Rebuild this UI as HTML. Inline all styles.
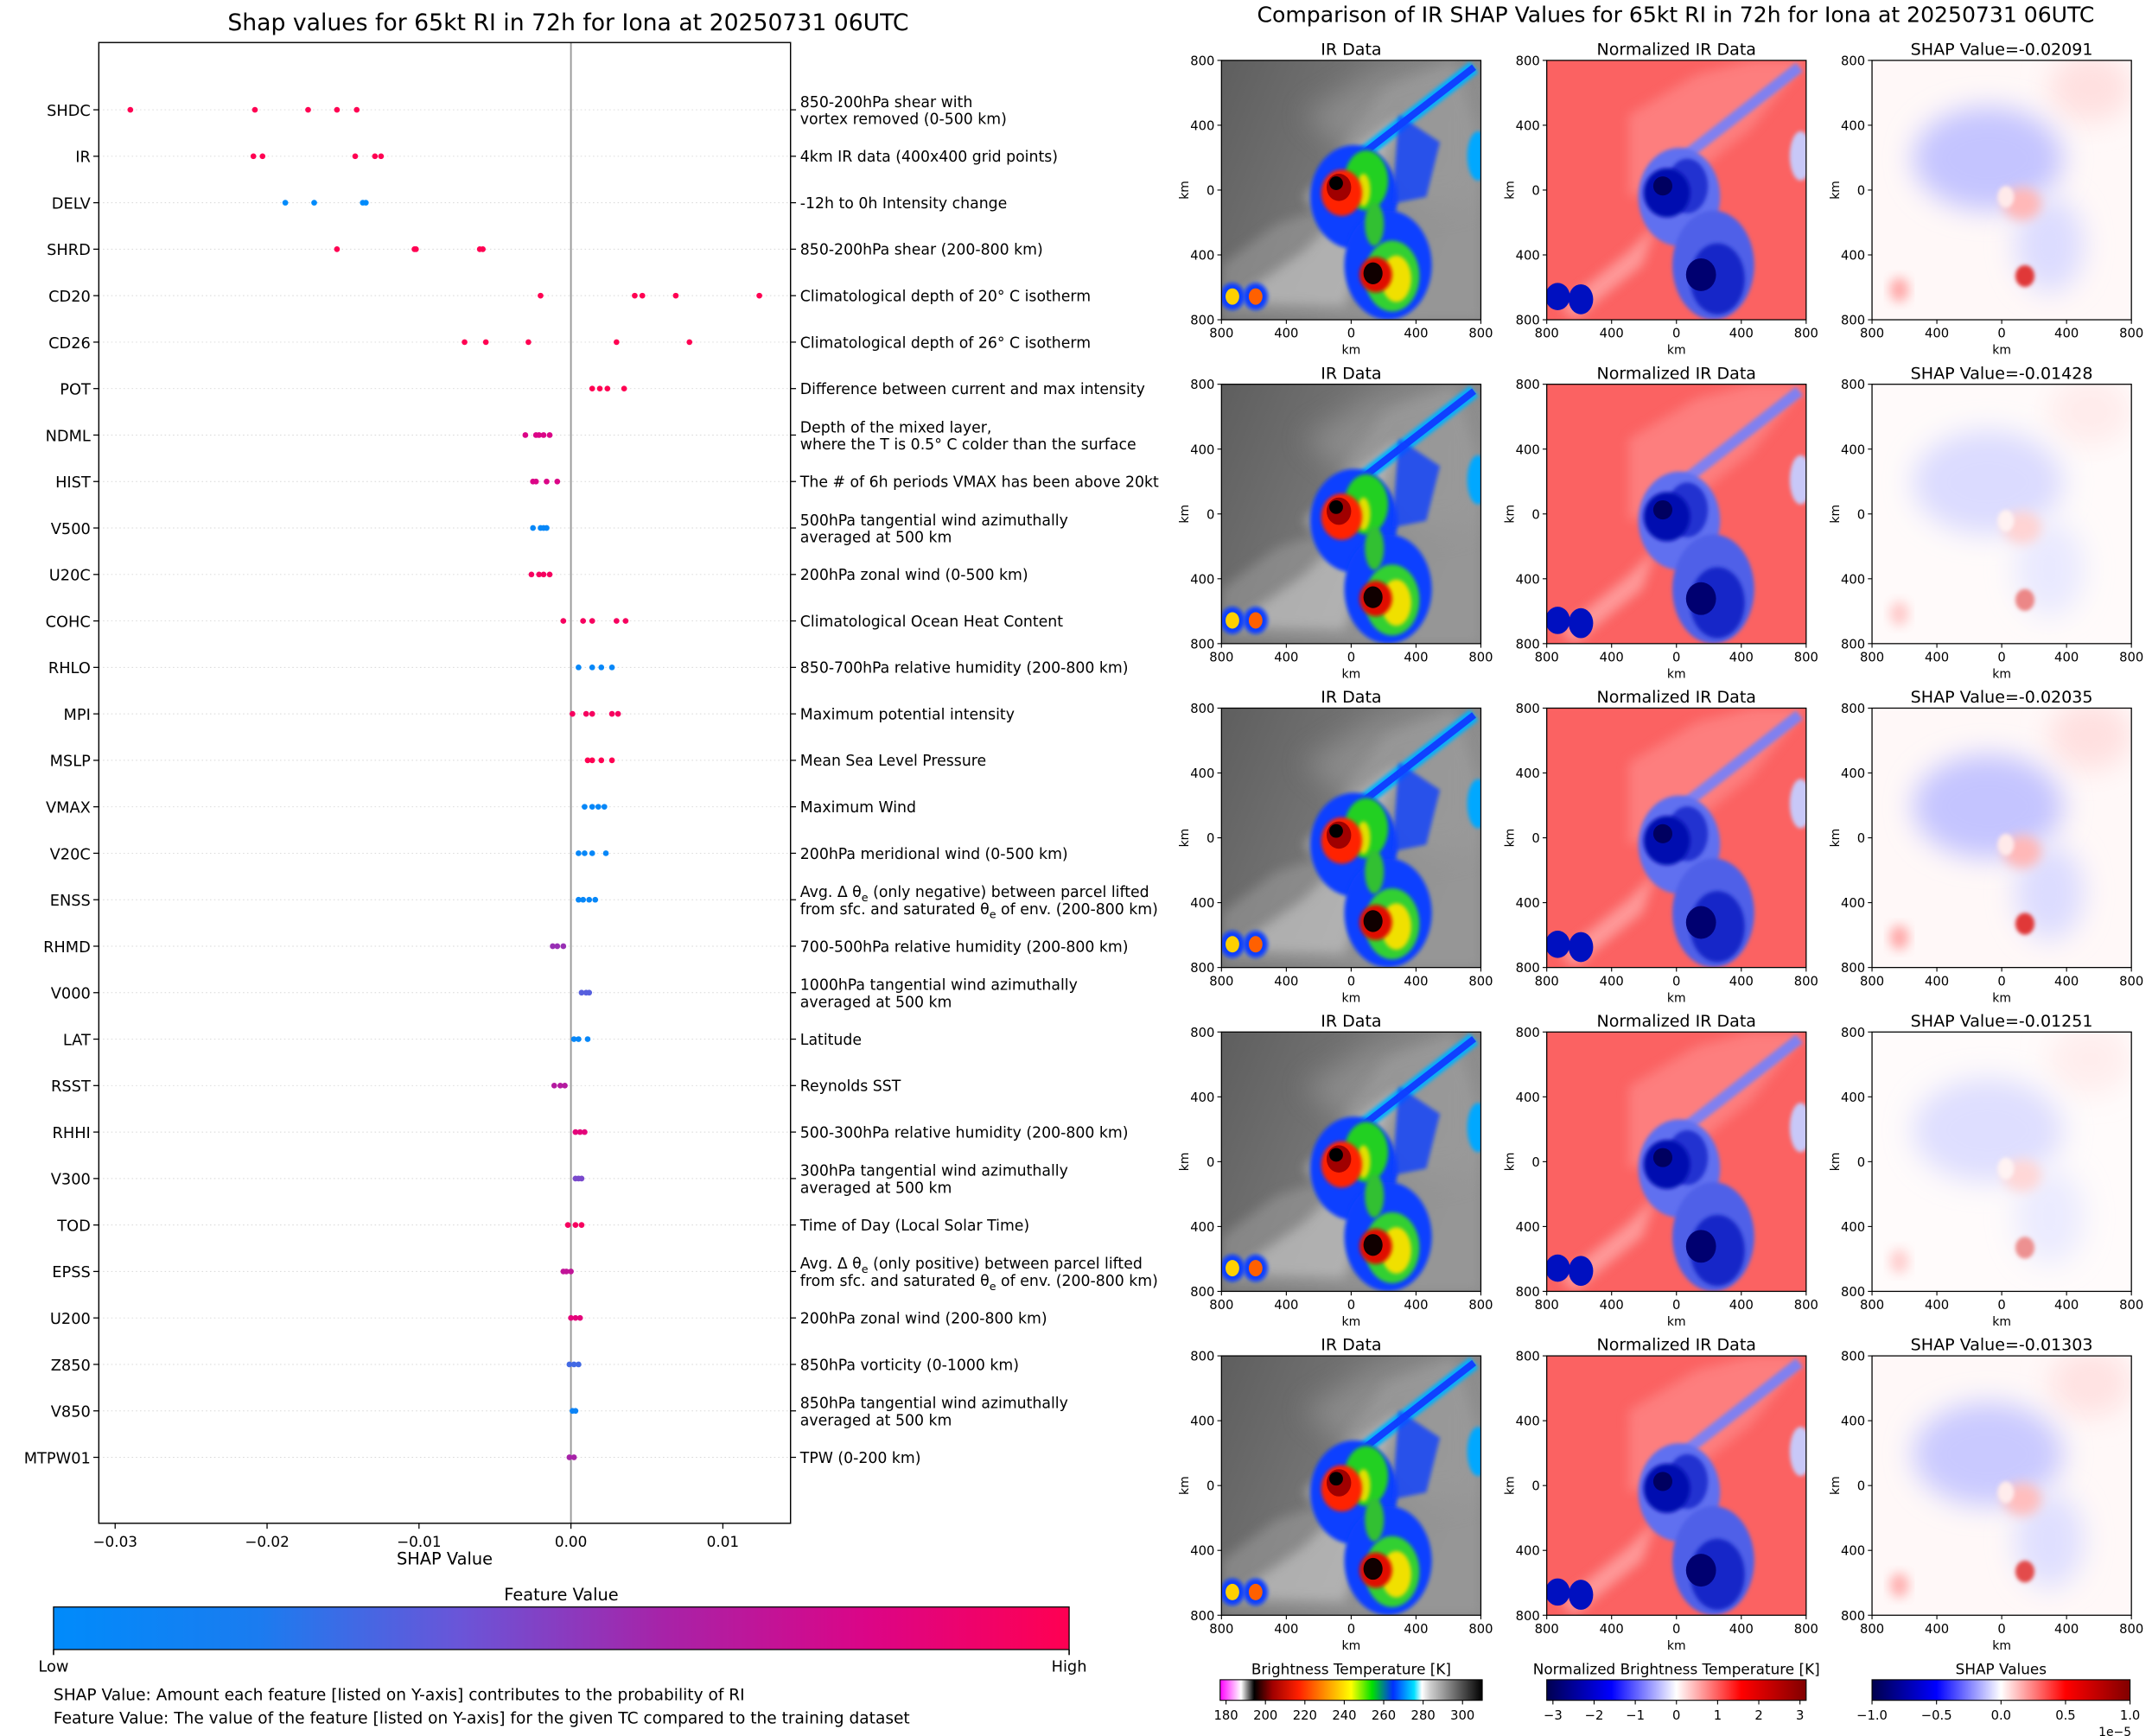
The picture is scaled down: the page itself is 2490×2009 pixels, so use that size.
<!DOCTYPE html>
<html><head><meta charset="utf-8"><style>
html,body{margin:0;padding:0;background:#fff}
svg{display:block}
text{font-family:"DejaVu Sans","Liberation Sans",sans-serif;fill:#000}
</style></head><body>
<svg id="fig" xmlns="http://www.w3.org/2000/svg" width="2490" height="2009" viewBox="0 0 1568 1265" preserveAspectRatio="none">
<defs>
<filter id="b1" x="-20%" y="-20%" width="140%" height="140%"><feGaussianBlur stdDeviation="1.4"/></filter>
<filter id="b4" x="-30%" y="-30%" width="160%" height="160%"><feGaussianBlur stdDeviation="4"/></filter>
<filter id="b10" x="-50%" y="-50%" width="200%" height="200%"><feGaussianBlur stdDeviation="10"/></filter>
<linearGradient id="featgrad" x1="0" x2="1" y1="0" y2="0">
<stop offset="0" stop-color="#008bfb"/><stop offset="0.2" stop-color="#1a7cf0"/><stop offset="0.4" stop-color="#6a55d8"/><stop offset="0.6" stop-color="#a723a8"/><stop offset="0.8" stop-color="#db0587"/><stop offset="1" stop-color="#ff0052"/></linearGradient>
<linearGradient id="irgrad" x1="0" x2="1" y1="0" y2="0">
<stop offset="0" stop-color="#ff00ff"/><stop offset="0.08" stop-color="#ffffff"/><stop offset="0.13" stop-color="#000000"/><stop offset="0.2" stop-color="#a00000"/><stop offset="0.3" stop-color="#ff2000"/><stop offset="0.4" stop-color="#ff9000"/><stop offset="0.5" stop-color="#ffff00"/><stop offset="0.58" stop-color="#00e000"/><stop offset="0.66" stop-color="#0030ff"/><stop offset="0.74" stop-color="#00e0ff"/><stop offset="0.77" stop-color="#ffffff"/><stop offset="0.8" stop-color="#d0d0d0"/><stop offset="1" stop-color="#000000"/></linearGradient>
<linearGradient id="bwrgrad" x1="0" x2="1" y1="0" y2="0">
<stop offset="0" stop-color="#000050"/><stop offset="0.25" stop-color="#0000ff"/><stop offset="0.5" stop-color="#ffffff"/><stop offset="0.75" stop-color="#ff0000"/><stop offset="1" stop-color="#800000"/></linearGradient>
<linearGradient id="seismic" x1="0" x2="1" y1="0" y2="0">
<stop offset="0" stop-color="#00004c"/><stop offset="0.25" stop-color="#0000ff"/><stop offset="0.5" stop-color="#ffffff"/><stop offset="0.75" stop-color="#ff0000"/><stop offset="1" stop-color="#800000"/></linearGradient>
<linearGradient id="irbg" x1="0" x2="1" y1="0" y2="0.4"><stop offset="0" stop-color="#5e5e5e"/><stop offset="1" stop-color="#8c8c8c"/></linearGradient>

<symbol id="irpanel" viewBox="0 0 190 190">
<rect width="190" height="190" fill="url(#irbg)"/>
<path d="M60,40 L110,10 L150,0 L190,0 L190,100 L150,110 L110,80 Z" fill="#9a9a9a" opacity="0.6" filter="url(#b10)"/>
<path d="M0,150 L40,120 L70,110 L90,60 L120,20 L170,0 L190,60 L190,190 L0,190Z" fill="#a0a0a0" opacity="0.5" filter="url(#b4)"/>
<path d="M5,178 L60,140 L80,120 L60,100 L90,70 L130,40 L120,70 L110,120 L90,180 Z" fill="#c8c8c8" opacity="0.6" filter="url(#b4)"/>
<path d="M95,75 L185,5" stroke="#00b0ff" stroke-width="10" fill="none" filter="url(#b1)"/>
<path d="M95,75 L185,5" stroke="#1040ff" stroke-width="5" fill="none"/>
<ellipse cx="97" cy="100" rx="32" ry="38" fill="#1040ff" filter="url(#b1)"/>
<ellipse cx="122" cy="150" rx="32" ry="40" fill="#1040ff" filter="url(#b1)"/>
<path d="M130,40 L160,60 L150,100 L125,105 Z" fill="#1040ff" opacity="0.8" filter="url(#b1)"/>
<ellipse cx="188" cy="70" rx="8" ry="18" fill="#00a8ff" filter="url(#b1)"/>
<ellipse cx="106" cy="88" rx="16" ry="22" fill="#20d020" filter="url(#b1)"/>
<ellipse cx="125" cy="158" rx="20" ry="26" fill="#30d030" filter="url(#b1)"/>
<ellipse cx="112" cy="120" rx="7" ry="16" fill="#30c030" filter="url(#b1)"/>
<ellipse cx="128" cy="160" rx="11" ry="17" fill="#f0e000" filter="url(#b1)"/>
<ellipse cx="104" cy="95" rx="5" ry="12" fill="#e0e000" filter="url(#b1)"/>
<ellipse cx="88" cy="97" rx="15" ry="17" fill="#ff2000" filter="url(#b1)"/>
<ellipse cx="86" cy="93" rx="9" ry="10" fill="#a00000"/>
<ellipse cx="84" cy="90" rx="5" ry="5" fill="#000"/>
<ellipse cx="113" cy="157" rx="12" ry="13" fill="#e01000" filter="url(#b1)"/>
<ellipse cx="111" cy="156" rx="7" ry="8" fill="#100000"/>
<ellipse cx="8" cy="173" rx="9" ry="10" fill="#1040ff" filter="url(#b1)"/>
<ellipse cx="25" cy="173" rx="9" ry="10" fill="#1040ff" filter="url(#b1)"/>
<ellipse cx="8" cy="173" rx="5" ry="6" fill="#ffd000"/>
<ellipse cx="25" cy="173" rx="5" ry="6" fill="#ff6000"/>
</symbol>

<symbol id="normpanel" viewBox="0 0 190 190">
<rect width="190" height="190" fill="#fb6262"/>
<path d="M60,40 L110,10 L150,0 L190,0 L150,50 L100,90 L60,100Z" fill="#ff9a9a" opacity="0.5" filter="url(#b4)"/>
<path d="M10,180 L60,140 L80,120 L70,150 L20,190Z" fill="#ffb0b0" opacity="0.7" filter="url(#b4)"/>
<path d="M95,75 L185,5" stroke="#8080f0" stroke-width="8" fill="none" filter="url(#b1)"/>
<ellipse cx="97" cy="100" rx="30" ry="36" fill="#6070f0" filter="url(#b1)"/>
<ellipse cx="122" cy="150" rx="30" ry="40" fill="#5060e8" filter="url(#b1)"/>
<ellipse cx="186" cy="70" rx="8" ry="18" fill="#c8c8f8" filter="url(#b1)"/>
<ellipse cx="103" cy="92" rx="15" ry="20" fill="#2030d0" filter="url(#b1)"/>
<ellipse cx="125" cy="160" rx="20" ry="26" fill="#1525c8" filter="url(#b1)"/>
<ellipse cx="88" cy="97" rx="17" ry="18" fill="#0010b0" filter="url(#b1)"/>
<ellipse cx="85" cy="92" rx="7" ry="7" fill="#000060"/>
<ellipse cx="113" cy="157" rx="11" ry="12" fill="#000070"/>
<ellipse cx="8" cy="173" rx="9" ry="10" fill="#0010c0"/>
<ellipse cx="25" cy="175" rx="9" ry="11" fill="#0010c0"/>
</symbol>

<symbol id="shappanel" viewBox="0 0 190 190">
<rect width="190" height="190" fill="#fff8f8"/>
<ellipse cx="160" cy="20" rx="30" ry="25" fill="#ffe0e0" filter="url(#b10)"/>
<ellipse cx="85" cy="72" rx="55" ry="38" fill="#c4c4ff" filter="url(#b10)"/>
<ellipse cx="130" cy="135" rx="25" ry="35" fill="#dcdcff" filter="url(#b10)"/>
<ellipse cx="110" cy="105" rx="14" ry="12" fill="#ffb8b8" filter="url(#b4)"/>
<ellipse cx="98" cy="100" rx="6" ry="8" fill="#ffeaea" filter="url(#b1)"/>
<ellipse cx="112" cy="158" rx="7" ry="8" fill="#e03838" filter="url(#b1)"/>
<ellipse cx="20" cy="168" rx="7" ry="9" fill="#ffa8a8" filter="url(#b4)"/>
</symbol>
</defs>
<g id="root"></g>
</svg>
<script>
// ===== Left chart data =====
const features = ["SHDC","IR","DELV","SHRD","CD20","CD26","POT","NDML","HIST","V500","U20C","COHC","RHLO","MPI","MSLP","VMAX","V20C","ENSS","RHMD","V000","LAT","RSST","RHHI","V300","TOD","EPSS","U200","Z850","V850","MTPW01"];
const shapValues = [
 [-0.0290,-0.0208,-0.0173,-0.0154,-0.0141],
 [-0.0209,-0.0203,-0.0142,-0.0129,-0.0125],
 [-0.0188,-0.0169,-0.0137,-0.0135],
 [-0.0154,-0.0103,-0.0102,-0.0060,-0.0058],
 [-0.0020,0.0042,0.0047,0.0069,0.0124],
 [-0.0070,-0.0056,-0.0028,0.0030,0.0078],
 [0.0014,0.0019,0.0024,0.0035],
 [-0.0030,-0.0023,-0.0021,-0.0018,-0.0014],
 [-0.0025,-0.0023,-0.0016,-0.0009],
 [-0.0025,-0.0020,-0.0018,-0.0016],
 [-0.0026,-0.0021,-0.0018,-0.0014],
 [-0.0005,0.0008,0.0014,0.0030,0.0036],
 [0.0005,0.0014,0.0020,0.0027],
 [0.0001,0.0010,0.0014,0.0027,0.0031],
 [0.0011,0.0014,0.0020,0.0027],
 [0.0009,0.0014,0.0018,0.0022],
 [0.0005,0.0009,0.0014,0.0023],
 [0.0005,0.0008,0.0012,0.0016],
 [-0.0012,-0.0009,-0.0005],
 [0.0007,0.0010,0.0012],
 [0.0002,0.0005,0.0011],
 [-0.0011,-0.0007,-0.0004],
 [0.0003,0.0006,0.0009],
 [0.0003,0.0005,0.0007],
 [-0.0002,0.0003,0.0007],
 [-0.0005,-0.0003,0.0000],
 [0.0000,0.0003,0.0006],
 [-0.0001,0.0002,0.0005],
 [0.0001,0.0003],
 [-0.0001,0.0002]
];
const featureLevel = [1,1,0,1,1,1,1,0.8,0.8,0.05,0.95,0.95,0.05,0.95,1,0.05,0.05,0.05,0.55,0.35,0.05,0.65,0.85,0.45,0.95,0.7,0.85,0.3,0.1,0.6];
const descriptions = [
 ["850-200hPa shear with","vortex removed (0-500 km)"],
 ["4km IR data (400x400 grid points)"],
 ["-12h to 0h Intensity change"],
 ["850-200hPa shear (200-800 km)"],
 ["Climatological depth of 20° C isotherm"],
 ["Climatological depth of 26° C isotherm"],
 ["Difference between current and max intensity"],
 ["Depth of the mixed layer,","where the T is 0.5° C colder than the surface"],
 ["The # of 6h periods VMAX has been above 20kt"],
 ["500hPa tangential wind azimuthally","averaged at 500 km"],
 ["200hPa zonal wind (0-500 km)"],
 ["Climatological Ocean Heat Content"],
 ["850-700hPa relative humidity (200-800 km)"],
 ["Maximum potential intensity"],
 ["Mean Sea Level Pressure"],
 ["Maximum Wind"],
 ["200hPa meridional wind (0-500 km)"],
 ["Avg. Δ θE (only negative) between parcel lifted","from sfc. and saturated θE of env. (200-800 km)"],
 ["700-500hPa relative humidity (200-800 km)"],
 ["1000hPa tangential wind azimuthally","averaged at 500 km"],
 ["Latitude"],
 ["Reynolds SST"],
 ["500-300hPa relative humidity (200-800 km)"],
 ["300hPa tangential wind azimuthally","averaged at 500 km"],
 ["Time of Day (Local Solar Time)"],
 ["Avg. Δ θE (only positive) between parcel lifted","from sfc. and saturated θE of env. (200-800 km)"],
 ["200hPa zonal wind (200-800 km)"],
 ["850hPa vorticity (0-1000 km)"],
 ["850hPa tangential wind azimuthally","averaged at 500 km"],
 ["TPW (0-200 km)"]
];
const xTickValues = [-0.03,-0.02,-0.01,0.00,0.01];
const xTickLabels = ["\u22120.03","\u22120.02","\u22120.01","0.00","0.01"];
// ===== Right panels data =====
const shapTotals = ["-0.02091","-0.01428","-0.02035","-0.01251","-0.01303"];
const panelTickLabels = ["800","400","0","400","800"];
const irCbTicks = [180,200,220,240,260,280,300];
const normCbTicks = [-3,-2,-1,0,1,2,3];
const shapCbTicks = [-1.0,-0.5,0.0,0.5,1.0];
const shapCbLabels = ["\u22121.0","\u22120.5","0.0","0.5","1.0"];

const NS="http://www.w3.org/2000/svg";
const root=document.getElementById('root');
function el(tag,attrs,parent,txt){const e=document.createElementNS(NS,tag);for(const k in attrs)e.setAttribute(k,attrs[k]);if(txt!==undefined)e.textContent=txt;(parent||root).appendChild(e);return e;}

const AX={l:72,r:576,t:31,b:1110};
const ROW0=80, ROWSTEP=33.86;
function xScale(v){return 416+v*11070;}
function yScale(i){return ROW0+i*ROWSTEP;}
function lerp(a,b,t){return a+(b-a)*t;}
function featColor(t){
 const stops=[[0,[0,139,251]],[0.2,[26,124,240]],[0.4,[106,85,216]],[0.6,[167,35,168]],[0.8,[219,5,135]],[1,[255,0,82]]];
 for(let i=0;i<stops.length-1;i++){if(t<=stops[i+1][0]){const f=(t-stops[i][0])/(stops[i+1][0]-stops[i][0]);const a=stops[i][1],b=stops[i+1][1];return `rgb(${Math.round(lerp(a[0],b[0],f))},${Math.round(lerp(a[1],b[1],f))},${Math.round(lerp(a[2],b[2],f))})`;}}
 return 'rgb(255,0,82)';
}

let t=el('text',{x:414,y:22,'font-size':16.8,'text-anchor':'middle'},root,'Shap values for 65kt RI in 72h for Iona at 20250731 06UTC');



const chart=el('g',{});


features.forEach((f,i)=>{
 const y=yScale(i);
 const g=el('line',{x1:AX.l,x2:AX.r,y1:y,y2:y,stroke:'#d8d8d8','stroke-width':0.6,'stroke-dasharray':'1,2'},chart);
 
 
 el('line',{x1:AX.l-4,x2:AX.l,y1:y,y2:y,stroke:'#000','stroke-width':0.8},chart);
 el('line',{x1:AX.r,x2:AX.r+4,y1:y,y2:y,stroke:'#000','stroke-width':0.8},chart);
 const lab=el('text',{x:AX.l-6,y:y+4.3,'font-size':11.2,'text-anchor':'end'},chart,f);
 
 
 const lines=descriptions[i];
 const dg=el('text',{x:AX.r+7,'font-size':10.9},chart);
 
 
 lines.forEach((ln,k)=>{
  const yy = lines.length===1? y+4 : y-2+k*12.5;
  const ts=el('tspan',{x:AX.r+7,y:yy},dg);
  ts.innerHTML=ln.replace(/θE/g,'θ<tspan dy="3" font-size="8">e</tspan><tspan dy="-3"> </tspan>');
 });
});
const zl=el('line',{x1:xScale(0),x2:xScale(0),y1:AX.t,y2:AX.b,stroke:'#999','stroke-width':1.2},chart);


shapValues.forEach((vals,i)=>{
 vals.forEach(v=>{
  const c=el('circle',{cx:xScale(v),cy:yScale(i),r:2.1,fill:featColor(featureLevel[i])},chart);
  
  
 });
});
const fr=el('rect',{x:AX.l,y:AX.t,width:AX.r-AX.l,height:AX.b-AX.t,fill:'none',stroke:'#000','stroke-width':0.9},chart);


xTickValues.forEach((v,k)=>{
 const x=xScale(v);
 el('line',{x1:x,x2:x,y1:AX.b,y2:AX.b+4,stroke:'#000','stroke-width':0.8},chart);
 const tl=el('text',{x:x,y:AX.b+17,'font-size':10.6,'text-anchor':'middle'},chart,xTickLabels[k]);
 
 
});
t=el('text',{x:324,y:1140,'font-size':12.2,'text-anchor':'middle'},root,'SHAP Value');



t=el('text',{x:409,y:1166,'font-size':12.2,'text-anchor':'middle'},root,'Feature Value');


t=el('rect',{x:39,y:1171,width:740,height:31,fill:'url(#featgrad)',stroke:'#000','stroke-width':0.8});


el('line',{x1:39,x2:39,y1:1202,y2:1206,stroke:'#000'});
el('line',{x1:779,x2:779,y1:1202,y2:1206,stroke:'#000'});
t=el('text',{x:39,y:1218,'font-size':11.2,'text-anchor':'middle'},root,'Low');


t=el('text',{x:779,y:1218,'font-size':11.2,'text-anchor':'middle'},root,'High');


t=el('text',{x:39,y:1239,'font-size':11.7},root,'SHAP Value: Amount each feature [listed on Y-axis] contributes to the probability of RI');


t=el('text',{x:39,y:1256,'font-size':11.7},root,'Feature Value: The value of the feature [listed on Y-axis] for the given TC compared to the training dataset');



t=el('text',{x:1221,y:16,'font-size':15.8,'text-anchor':'middle'},root,'Comparison of IR SHAP Values for 65kt RI in 72h for Iona at 20250731 06UTC');


const colX=[890,1127,1364], PW=189, PH=189;
const rowY=[44,280,516,752,988];
const syms=['irpanel','normpanel','shappanel'];
const shapOpacity=[1,0.6,1,0.55,0.9];
rowY.forEach((py,r)=>{
 colX.forEach((px,c)=>{
  const g=el('g',{});
  
  
  const u=el('use',{href:'#'+syms[c],x:px,y:py,width:PW,height:PH},g);
  if(c===2) u.setAttribute('opacity',shapOpacity[r]);
  el('rect',{x:px,y:py,width:PW,height:PH,fill:'none',stroke:'#000','stroke-width':0.8},g);
  const title=c===0?'IR Data':c===1?'Normalized IR Data':'SHAP Value='+shapTotals[r];
  const tt=el('text',{x:px+PW/2,y:py-4,'font-size':12,'text-anchor':'middle'},g,title);
  
  
  panelTickLabels.forEach((lab,k)=>{
   const yy=py+k*PH/4, xx=px+k*PW/4;
   el('line',{x1:px-3,x2:px,y1:yy,y2:yy,stroke:'#000','stroke-width':0.7},g);
   el('text',{x:px-5,y:yy+3.5,'font-size':9.3,'text-anchor':'end'},g,lab);
   el('line',{x1:xx,x2:xx,y1:py+PH,y2:py+PH+3,stroke:'#000','stroke-width':0.7},g);
   el('text',{x:xx,y:py+PH+13,'font-size':9.3,'text-anchor':'middle'},g,lab);
  });
  el('text',{x:px+PW/2,y:py+PH+25,'font-size':8.8,'text-anchor':'middle'},g,'km');
  el('text',{x:0,y:0,'font-size':8.8,'text-anchor':'middle',transform:`translate(${px-24},${py+PH/2}) rotate(-90)`},g,'km');
 });
});
const cbs=[
 {x:889,w:191,title:'Brightness Temperature [K]',grad:'irgrad',ticks:irCbTicks,labels:irCbTicks.map(String),min:177,max:310,name:'brightness-temp-colorbar'},
 {x:1127,w:189,title:'Normalized Brightness Temperature [K]',grad:'bwrgrad',ticks:normCbTicks,labels:normCbTicks.map(v=>v<0?'\u2212'+(-v):String(v)),min:-3.15,max:3.15,name:'normalized-temp-colorbar'},
 {x:1364,w:188,title:'SHAP Values',grad:'seismic',ticks:shapCbTicks,labels:shapCbLabels,min:-1,max:1,name:'shap-values-colorbar'}
];
cbs.forEach(cb=>{
 const g=el('g',{});
 
 
 el('text',{x:cb.x+cb.w/2,y:1220,'font-size':10.6,'text-anchor':'middle'},g,cb.title);
 el('rect',{x:cb.x,y:1224,width:cb.w,height:15,fill:`url(#${cb.grad})`,stroke:'#000','stroke-width':0.7},g);
 cb.ticks.forEach((v,k)=>{
  const x=cb.x+(v-cb.min)/(cb.max-cb.min)*cb.w;
  el('line',{x1:x,x2:x,y1:1239,y2:1242,stroke:'#000','stroke-width':0.7},g);
  el('text',{x:x,y:1253,'font-size':9.3,'text-anchor':'middle'},g,cb.labels[k]);
 });
});
t=el('text',{x:1541,y:1265,'font-size':8.8,'text-anchor':'middle'},root,'1e\u22125');


</script>
</body></html>
